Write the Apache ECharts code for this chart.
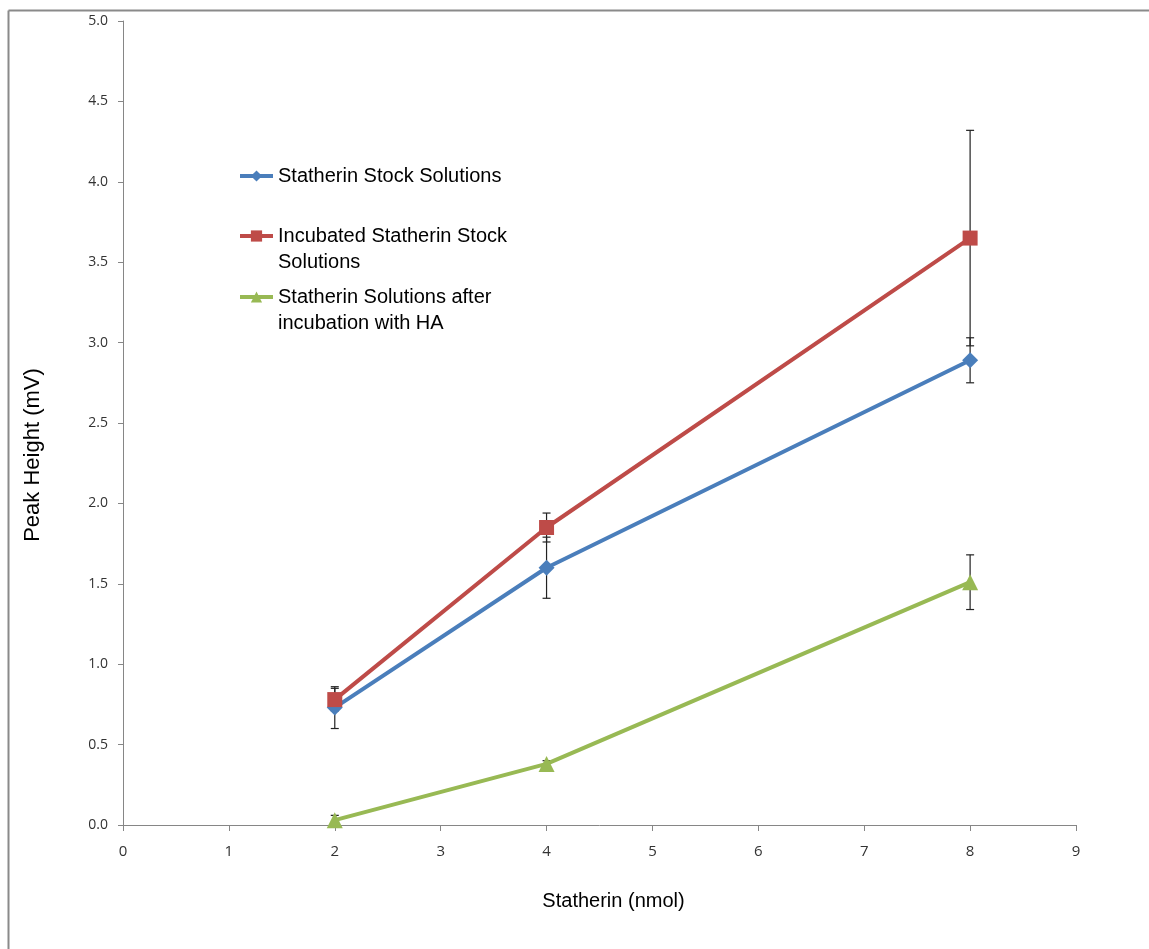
<!DOCTYPE html>
<html>
<head>
<meta charset="utf-8">
<script src="https://cdn.jsdelivr.net/npm/echarts@6/dist/echarts.min.js"></script>
<style>html,body{margin:0;padding:0;background:#fff;}#c{width:1149px;height:949px;}</style>
</head>
<body>
<div id="c"></div>
<script>
const xValues = [2, 4, 8];
const stockValues = [0.73, 1.60, 2.89];
const stockErr = [0.13, 0.19, 0.14];
const incubatedValues = [0.78, 1.85, 3.65];
const incubatedErr = [0.07, 0.09, 0.67];
const haValues = [0.03, 0.38, 1.51];
const haErr = [0.03, 0.02, 0.17];
const seriesNames = ['Statherin Stock Solutions', 'Incubated Statherin Stock Solutions', 'Statherin Solutions after incubation with HA'];
const legendLabels = ['Statherin Stock Solutions', '\nIncubated Statherin Stock\nSolutions', '\nStatherin Solutions after\nincubation with HA'];
const colors = ['#4a7ebb', '#be4b48', '#98b954'];

const chart = echarts.init(document.getElementById('c'), null, {renderer: 'canvas'});

function pts(vals) { return xValues.map((x, i) => [x, vals[i]]); }
function errData(vals, errs) { return xValues.map((x, i) => [x, vals[i] - errs[i], vals[i] + errs[i]]); }

function errSeries(vals, errs) {
  return {
    type: 'custom',
    z: 1,
    silent: true,
    data: errData(vals, errs),
    encode: {x: 0, y: [1, 2]},
    renderItem: function (params, api) {
      const lo = api.coord([api.value(0), api.value(1)]);
      const hi = api.coord([api.value(0), api.value(2)]);
      const hw = 4;
      const st = {stroke: '#222', lineWidth: 1.2};
      return {
        type: 'group',
        children: [
          {type: 'line', shape: {x1: lo[0], y1: lo[1], x2: hi[0], y2: hi[1]}, style: st},
          {type: 'line', shape: {x1: lo[0] - hw, y1: lo[1], x2: lo[0] + hw, y2: lo[1]}, style: st},
          {type: 'line', shape: {x1: hi[0] - hw, y1: hi[1], x2: hi[0] + hw, y2: hi[1]}, style: st}
        ]
      };
    }
  };
}

function lineSeries(i, vals, symbol, size) {
  return {
    name: seriesNames[i],
    type: 'line',
    z: 2 + i,
    data: pts(vals),
    symbol: symbol,
    symbolSize: size,
    showSymbol: true,
    lineStyle: {color: colors[i], width: 4},
    itemStyle: {color: colors[i]},
    emphasis: {disabled: true}
  };
}

const legendTops = [158, 192, 253];
const legends = [0, 1, 2].map(i => ({
  data: [seriesNames[i]],
  left: 233,
  top: legendTops[i],
  itemWidth: 33,
  itemHeight: 14,
  itemGap: 4,
  lineStyle: {width: 4},
  formatter: function () { return legendLabels[i]; },
  textStyle: {
    fontFamily: 'Liberation Sans, Arial, sans-serif',
    fontSize: 20,
    color: '#000',
    lineHeight: 26
  },
  selectedMode: false
}));

chart.setOption({
  animation: false,
  backgroundColor: '#fff',
  color: colors,
  grid: {left: 123, right: 73, top: 21, bottom: 124, containLabel: false},
  legend: legends,
  graphic: [
    {type: 'line', shape: {x1: 8.5, y1: 10.5, x2: 1149, y2: 10.5}, style: {stroke: '#8a8a8a', lineWidth: 2}},
    {type: 'line', shape: {x1: 8.5, y1: 10.5, x2: 8.5, y2: 949}, style: {stroke: '#8a8a8a', lineWidth: 2}}
  ],
  xAxis: {
    type: 'value',
    min: 0, max: 9, interval: 1,
    name: 'Statherin (nmol)',
    nameLocation: 'middle',
    nameGap: 66,
    nameTextStyle: {fontFamily: 'Liberation Sans, Arial, sans-serif', fontSize: 20, color: '#000', padding: [0, 0, 0, 28]},
    axisLine: {lineStyle: {color: '#868686', width: 1}},
    axisTick: {show: true, inside: false, length: 6, lineStyle: {color: '#868686'}},
    axisLabel: {margin: 19, fontFamily: 'Open Sans, sans-serif', fontSize: 15, color: '#333'},
    splitLine: {show: false}
  },
  yAxis: {
    type: 'value',
    min: 0, max: 5, interval: 0.5,
    name: 'Peak Height (mV)',
    nameLocation: 'middle',
    nameGap: 79,
    nameRotate: 90,
    nameTextStyle: {fontFamily: 'Liberation Sans, Arial, sans-serif', fontSize: 22, color: '#000', padding: [0, 64, 0, 0]},
    axisLine: {show: true, lineStyle: {color: '#868686', width: 1}},
    axisTick: {show: true, inside: false, length: 5, lineStyle: {color: '#868686'}},
    axisLabel: {margin: 15, fontFamily: 'Open Sans, sans-serif', fontSize: 14, color: '#333', formatter: v => v.toFixed(1)},
    splitLine: {show: false}
  },
  series: [
    errSeries(stockValues, stockErr),
    errSeries(incubatedValues, incubatedErr),
    errSeries(haValues, haErr),
    lineSeries(0, stockValues, 'diamond', 16),
    lineSeries(1, incubatedValues, 'rect', 15),
    lineSeries(2, haValues, 'triangle', 16)
  ]
});
</script>
</body>
</html>
